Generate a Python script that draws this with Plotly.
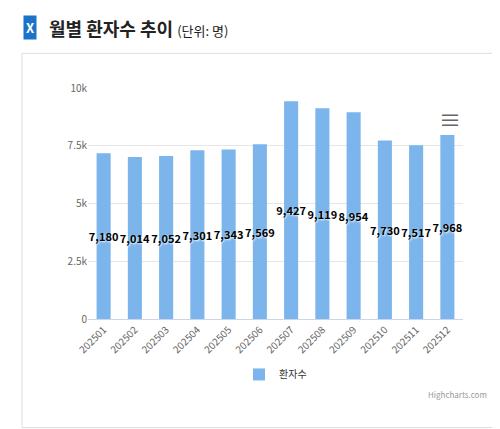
import plotly.graph_objects as go

months = ["202501","202502","202503","202504","202505","202506","202507","202508","202509","202510","202511","202512"]
patients = [7180,7014,7052,7301,7343,7569,9427,9119,8954,7730,7517,7968]
labels = [f"{v:,}" for v in patients]

fig = go.Figure(go.Bar(
    x=months, y=patients, text=labels, name="환자수",
    marker=dict(color="#7cb5ec", line=dict(width=0)),
    textposition="inside", insidetextanchor="middle", textangle=0, constraintext="none",
    textfont=dict(color="black", size=11, family="Noto Sans CJK KR", shadow="1px 1px 2px white", weight="bold"),
    width=0.45, showlegend=True,
))
fig.update_layout(
    width=500, height=429, paper_bgcolor="white", plot_bgcolor="white",
    margin=dict(l=80, r=45, t=80, b=118),
    uniformtext=dict(mode="show", minsize=11),
    font=dict(family="Noto Sans CJK KR", color="#666"),
    xaxis=dict(tickangle=-45, tickfont=dict(size=10, color="#666"), showline=True, linecolor="#ccd6eb", ticks=""),
    yaxis=dict(range=[0,10000], tickvals=[0,2500,5000,7500,10000], ticktext=["0","2.5k","5k","7.5k","10k"],
               gridcolor="#e6e6e6", tickfont=dict(size=10, color="#666"), zeroline=False),
    legend=dict(orientation="h", x=0.5, xanchor="center", y=-0.24, yanchor="middle", font=dict(size=10, color="#333")),
    shapes=[dict(type="rect", xref="paper", yref="paper", x0=-0.176, x1=1.085, y0=-0.47, y1=1.15,
                 line=dict(color="#ddd", width=1))],
    annotations=[
        dict(text="<b>X</b>", xref="paper", yref="paper", x=-0.155, y=1.26, showarrow=False,
             bgcolor="#1a73c8", font=dict(color="white", size=13), xanchor="center", yanchor="middle", borderpad=2),
        dict(text="<b>월별 환자수 추이</b> <span style='font-size:13px'>(단위: 명)</span>", xref="paper", yref="paper",
             x=-0.11, y=1.26, showarrow=False, xanchor="left", yanchor="middle", font=dict(size=18, color="#222")),
        dict(text="≡", xref="paper", yref="paper", x=1.0, y=0.95, showarrow=False, font=dict(size=22, color="#666")),
        dict(text="Highcharts.com", xref="paper", yref="paper", x=1.07, y=-0.36, showarrow=False, xanchor="right",
             font=dict(size=8, color="#999")),
    ],
)
fig.write_html("out.html")
